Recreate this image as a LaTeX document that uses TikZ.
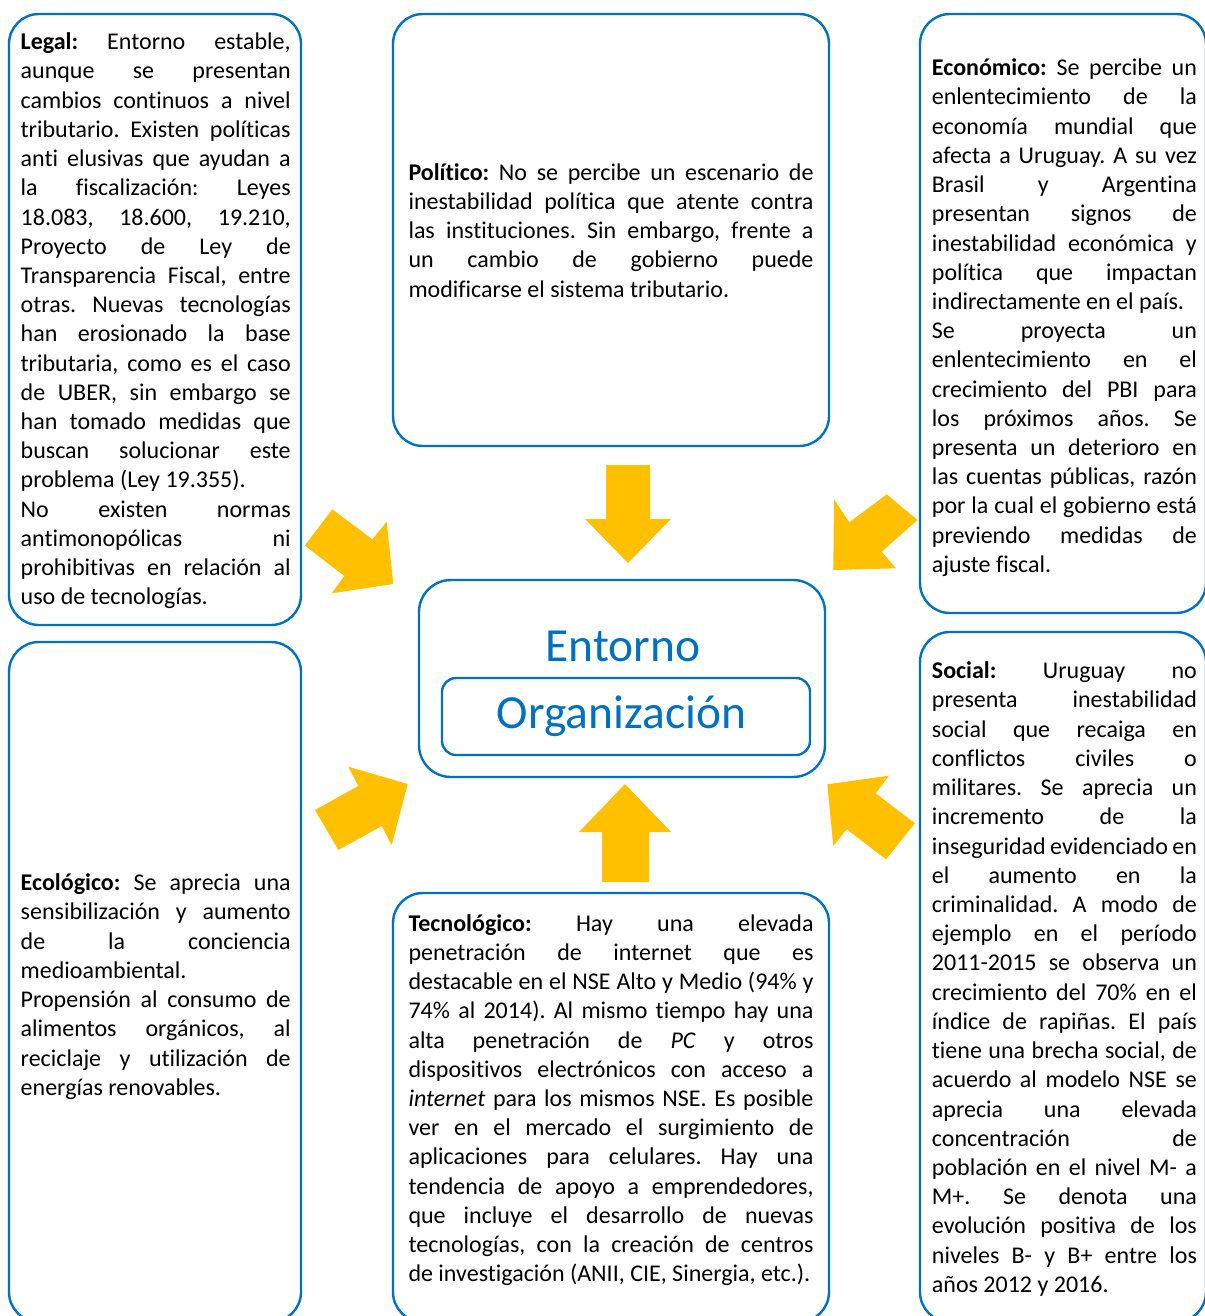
\documentclass[tikz,border=0pt]{standalone}
\usepackage{fontspec}
\setmainfont{Carlito}[Ligatures={NoCommon}]
\definecolor{bl}{HTML}{0070C0}
\definecolor{yl}{HTML}{FFC000}
\newcommand\mybodyfont{\fontsize{24}{29.22}\selectfont\parindent=0pt\tolerance=10000\hyphenpenalty=10000\exhyphenpenalty=10000\frenchspacing}
\newcommand\st{\rule{0pt}{20pt}}
\tikzset{
  panel/.style={draw=bl, line width=2.4pt, rounded corners=30pt, inner sep=0pt},
  txt/.style={anchor=north west, inner sep=0pt, align=justify, font=\mybodyfont},
  arr/.style={fill=yl, draw=none},
  big/.style={text=bl, inner sep=0pt, anchor=base, font=\fontsize{47.5}{52}\selectfont}
}
\begin{document}
\begin{tikzpicture}[x=1pt,y=-1pt]
\useasboundingbox (0,0) rectangle (1204,1316);
% panels
\node[panel, minimum width=292pt, minimum height=611pt] (legal) at (155,319.5) {};
\node[panel, minimum width=436pt, minimum height=432pt] (politico) at (611,230) {};
\node[panel, minimum width=286pt, minimum height=599pt] (economico) at (1063,313.5) {};
\node[panel, minimum width=292pt, minimum height=680pt] (ecologico) at (155,982) {};
\node[panel, minimum width=436pt, minimum height=429pt] (tecno) at (611,1107.5) {};
\node[panel, minimum width=286pt, minimum height=690pt] (social) at (1063,977) {};
\node[panel, rounded corners=32pt, minimum width=406pt, minimum height=197pt] (entorno) at (622,678.5) {};
\node[panel, rounded corners=14pt, minimum width=368pt, minimum height=77pt] (org) at (626,716.5) {};
\node[big] (entornotxt) at (623,661) {Entorno};
\node[big] (orgtxt) at (621.5,728) {Organización};
% texts
\node[txt, text width=270pt] (legaltxt) at (20.5,29.5) {\st\textbf{Legal:} Entorno estable,\linebreak aunque se presentan\linebreak cambios continuos a nivel\linebreak tributario. Existen políticas\linebreak anti elusivas que ayudan a\linebreak la fiscalización: Leyes\linebreak 18.083, 18.600, 19.210,\linebreak Proyecto de Ley de\linebreak Transparencia Fiscal, entre\linebreak otras. Nuevas tecnologías\linebreak han erosionado la base\linebreak tributaria, como es el caso\linebreak de UBER, sin embargo se\linebreak han tomado medidas que\linebreak buscan solucionar este\linebreak problema (Ley 19.355).\par No existen normas\linebreak antimonopólicas ni\linebreak prohibitivas en relación al\linebreak uso de tecnologías.};
\node[txt, text width=405pt] (politxt) at (408.3,160) {\st\textbf{Político:} No se percibe un escenario de\linebreak inestabilidad política que atente contra\linebreak las instituciones. Sin embargo, frente a\linebreak un cambio de gobierno puede\linebreak modificarse el sistema tributario.};
\node[txt, text width=265pt] (ecotxt) at (931.7,55.5) {\st\textbf{Económico:} Se percibe un\linebreak enlentecimiento de la\linebreak economía mundial que\linebreak afecta a Uruguay. A su vez\linebreak Brasil y Argentina\linebreak presentan signos de\linebreak inestabilidad económica y\linebreak política que impactan\linebreak indirectamente en el país.\par Se proyecta un\linebreak enlentecimiento en el\linebreak crecimiento del PBI para\linebreak los próximos años. Se\linebreak presenta un deterioro en\linebreak las cuentas públicas, razón\linebreak por la cual el gobierno está\linebreak previendo medidas de\linebreak ajuste fiscal.};
\node[txt, text width=270pt] (ecolotxt) at (20.5,870.5) {\st\textbf{Ecológico:} Se aprecia una\linebreak sensibilización y aumento\linebreak de la conciencia\linebreak medioambiental.\par Propensión al consumo de\linebreak alimentos orgánicos, al\linebreak reciclaje y utilización de\linebreak energías renovables.};
\node[txt, text width=405pt] (tecnotxt) at (408.3,911) {\st\textbf{Tecnológico:} Hay una elevada\linebreak penetración de internet que es\linebreak destacable en el NSE Alto y Medio (94\% y\linebreak 74\% al 2014). Al mismo tiempo hay una\linebreak alta penetración de \textit{PC} y otros\linebreak dispositivos electrónicos con acceso a\linebreak \textit{internet} para los mismos NSE. Es posible\linebreak ver en el mercado el surgimiento de\linebreak aplicaciones para celulares. Hay una\linebreak tendencia de apoyo a emprendedores,\linebreak que incluye el desarrollo de nuevas\linebreak tecnologías, con la creación de centros\linebreak de investigación (ANII, CIE, Sinergia, etc.).};
\node[txt, text width=265pt] (socialtxt) at (931.7,658.5) {\st\textbf{Social:} Uruguay no\linebreak presenta inestabilidad\linebreak social que recaiga en\linebreak conflictos civiles o\linebreak militares. Se aprecia un\linebreak incremento de la\linebreak inseguridad evidenciado en\linebreak el aumento en la\linebreak criminalidad. A modo de\linebreak ejemplo en el período\linebreak 2011-2015 se observa un\linebreak crecimiento del 70\% en el\linebreak índice de rapiñas. El país\linebreak tiene una brecha social, de\linebreak acuerdo al modelo NSE se\linebreak aprecia una elevada\linebreak concentración de\linebreak población en el nivel M- a\linebreak M+. Se denota una\linebreak evolución positiva de los\linebreak niveles B- y B+ entre los\linebreak años 2012 y 2016.};
% block arrows
\fill[arr] (606,465) -- (650,465) -- (650,519) -- (671,519) -- (628,563) -- (585,519) -- (606,519) -- cycle;
\fill[arr] (602,882) -- (649,882) -- (649,832) -- (671,832) -- (625,784) -- (579,832) -- (602,832) -- cycle;
\fill[arr] (332.3,509.3) -- (372.3,539.3) -- (386.7,521.7) -- (393.3,584) -- (331.7,593.3) -- (344.3,576) -- (304.8,545.5) -- cycle;
\fill[arr] (886.7,494.3) -- (917.5,520) -- (881.7,551.7) -- (896,568.3) -- (833.3,570) -- (834,499.3) -- (849.3,522.3) -- cycle;
\fill[arr] (315,810) -- (358.3,786) -- (348.3,766.7) -- (407.7,784) -- (391.7,845.3) -- (381.7,826) -- (338.4,850) -- cycle;
\fill[arr] (915,823.3) -- (875.7,793.3) -- (889,775.7) -- (827.3,784.3) -- (833.3,846) -- (846.7,829.3) -- (886,859.3) -- cycle;
\end{tikzpicture}
\end{document}
